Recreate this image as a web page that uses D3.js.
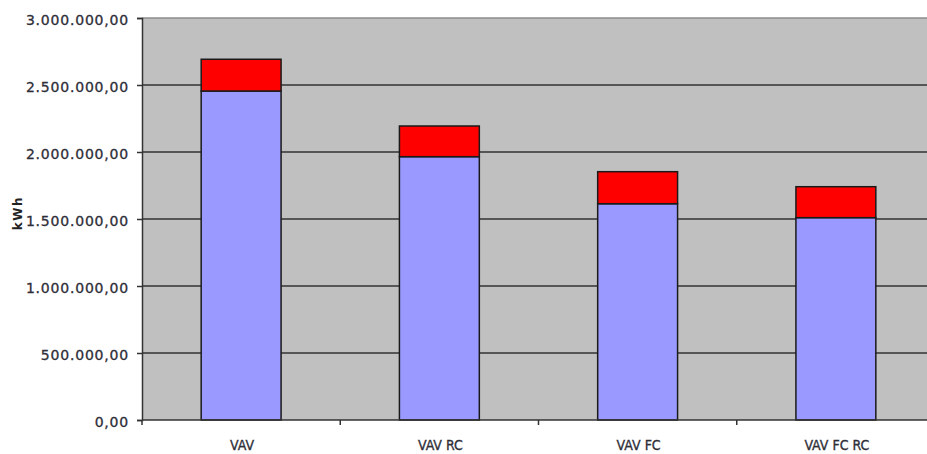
<!DOCTYPE html>
<html>
<head>
<meta charset="utf-8">
<script src="https://cdn.jsdelivr.net/npm/d3@7"></script>
<style>
  html, body { margin: 0; padding: 0; background: #ffffff; }
  svg { display: block; }
</style>
</head>
<body>
<svg id="chart" width="927" height="454"></svg>
<script>
// Annual energy use per system variant, kWh
const categories = ["VAV", "VAV RC", "VAV FC", "VAV FC RC"];
const baseEnergy = [2455000, 1965000, 1614000, 1510000];   // lower (blue) segment
const extraEnergy = [237000, 229000, 239000, 231000];      // upper (red) segment
const yTicks = [0, 500000, 1000000, 1500000, 2000000, 2500000, 3000000];
const seriesKeys = ["base", "extra"];
const seriesColors = { base: "#9999ff", extra: "#ff0000" };

const rows = categories.map((c, i) => ({ cat: c, base: baseEnergy[i], extra: extraEnergy[i] }));
const stacked = d3.stack().keys(seriesKeys)(rows);

const svg = d3.select("#chart");
const plotLeft = 142, plotTop = 18, plotBottom = 420, plotRight = 935;

const x = d3.scaleBand().domain(categories).range([plotLeft, plotRight])
  .paddingInner(0.597).paddingOuter(0.2985);
const y = d3.scaleLinear().domain([0, 3000000]).range([plotBottom, plotTop]);

// number format with '.' thousands and ',' decimals
const fmt = d3.formatLocale({ decimal: ",", thousands: ".", grouping: [3], currency: ["", ""] }).format(",.2f");

// plot background
svg.append("rect")
  .attr("x", plotLeft).attr("y", plotTop)
  .attr("width", plotRight - plotLeft).attr("height", plotBottom - plotTop)
  .attr("fill", "#c0c0c0");

// horizontal grid lines
svg.append("g").selectAll("line")
  .data(yTicks.filter(t => t > 0))
  .join("line")
  .attr("x1", plotLeft).attr("x2", plotRight)
  .attr("y1", d => y(d)).attr("y2", d => y(d))
  .attr("stroke", d => d === 3000000 ? "#8c8c8c" : "#333333")
  .attr("stroke-width", 1.5);

// stacked bars
svg.append("g").selectAll("g")
  .data(stacked)
  .join("g")
  .attr("fill", d => seriesColors[d.key])
  .selectAll("rect")
  .data(d => d)
  .join("rect")
  .attr("x", d => x(d.data.cat))
  .attr("width", x.bandwidth())
  .attr("y", d => y(d[1]))
  .attr("height", d => y(d[0]) - y(d[1]))
  .attr("stroke", "#1a1a1a")
  .attr("stroke-width", 1.5);

// y axis
const yAxis = svg.append("g")
  .attr("transform", `translate(${plotLeft},0)`)
  .call(d3.axisLeft(y).tickValues(yTicks).tickFormat(fmt).tickSize(5).tickPadding(8));
yAxis.select(".domain").attr("stroke", "#333333").attr("stroke-width", 1.5);
yAxis.selectAll(".tick line").attr("stroke", "#333333").attr("stroke-width", 1.5);
yAxis.selectAll(".tick text")
  .attr("font-family", "'DejaVu Sans', sans-serif")
  .attr("font-size", 14)
  .attr("letter-spacing", 0.8)
  .attr("dy", "0.45em")
  .attr("fill", "#2e2e38")
  .attr("stroke", "#2e2e38")
  .attr("stroke-width", 0.3);

// x axis with ticks on band boundaries
const boundaries = d3.range(categories.length + 1).map(i => plotLeft + i * x.step());
svg.append("line")
  .attr("x1", plotLeft).attr("x2", plotRight)
  .attr("y1", plotBottom).attr("y2", plotBottom)
  .attr("stroke", "#333333").attr("stroke-width", 1.5);
svg.append("g").selectAll("line")
  .data(boundaries)
  .join("line")
  .attr("x1", d => d).attr("x2", d => d)
  .attr("y1", plotBottom).attr("y2", plotBottom + 5)
  .attr("stroke", "#333333").attr("stroke-width", 1.5);
svg.append("g").selectAll("text")
  .data(categories)
  .join("text")
  .attr("x", d => x(d) + x.bandwidth() / 2 + 1)
  .attr("y", 450)
  .attr("text-anchor", "middle")
  .attr("font-family", "'DejaVu Sans Condensed', 'DejaVu Sans', sans-serif")
  .attr("font-size", 14)
  .attr("fill", "#2e2e38")
  .attr("stroke", "#2e2e38")
  .attr("stroke-width", 0.3)
  .text(d => d);

// y axis title
svg.append("text")
  .attr("transform", "translate(22,213) rotate(-90)")
  .attr("text-anchor", "middle")
  .attr("font-family", "'DejaVu Sans', sans-serif")
  .attr("font-size", 12)
  .attr("font-weight", "bold")
  .attr("letter-spacing", 1.5)
  .attr("fill", "#222")
  .text("kWh");
</script>
</body>
</html>
